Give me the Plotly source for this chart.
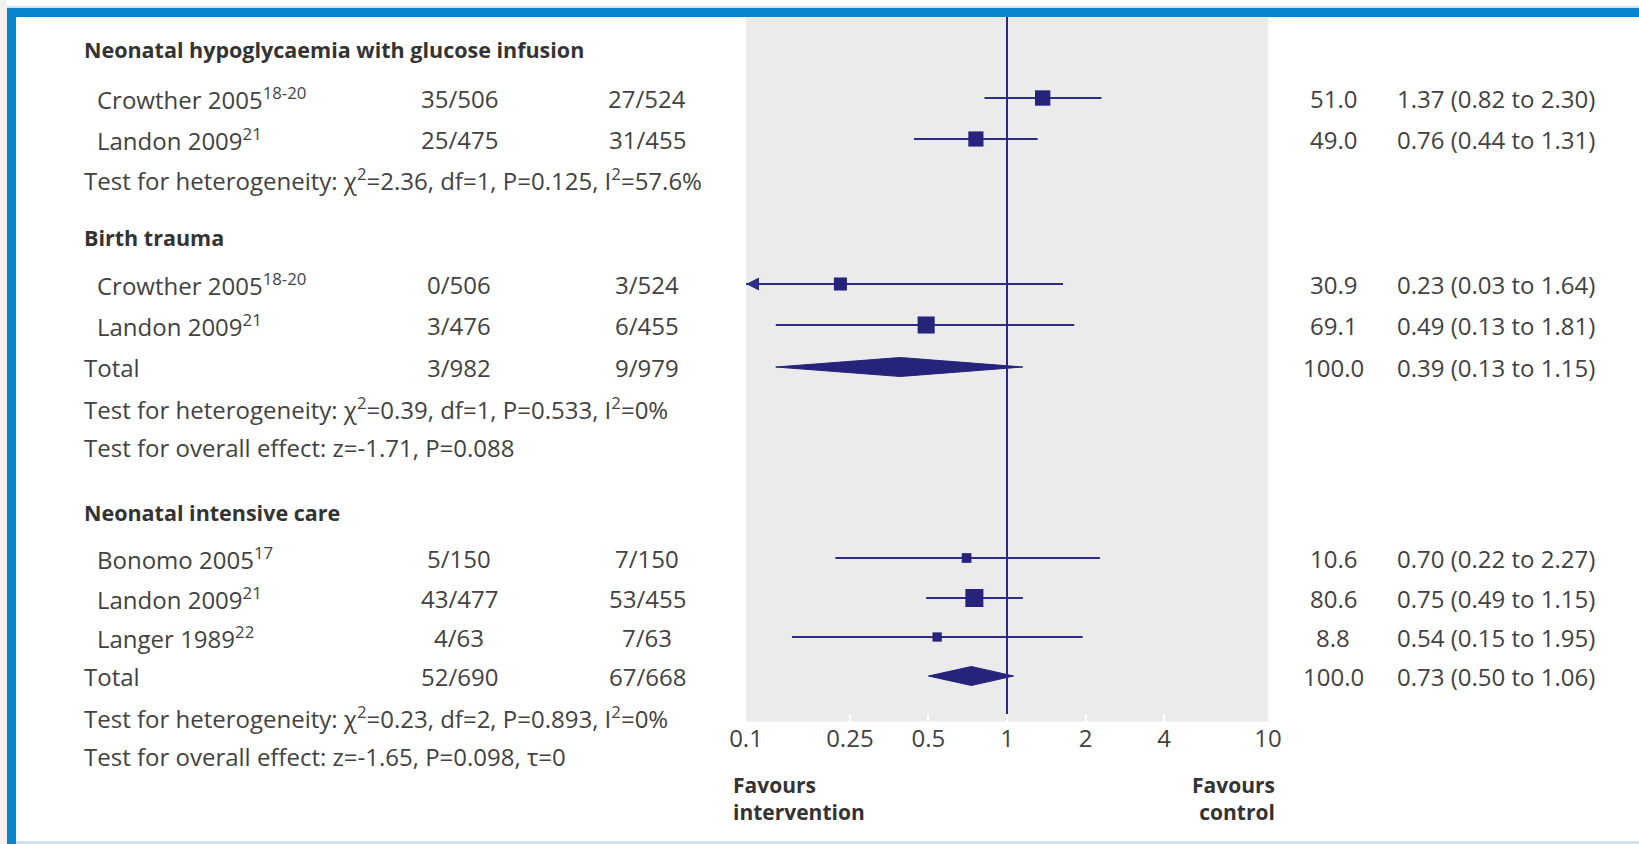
import math
import plotly.graph_objects as go

# ---- data -------------------------------------------------------------
group_titles = [
    "Neonatal hypoglycaemia with glucose infusion",
    "Birth trauma",
    "Neonatal intensive care",
]
study_names = ["Crowther 2005", "Landon 2009", "Crowther 2005", "Landon 2009",
               "Bonomo 2005", "Landon 2009", "Langer 1989"]
study_refs = ["18-20", "21", "18-20", "21", "17", "21", "22"]
study_group = [0, 0, 1, 1, 2, 2, 2]
events_int = ["35/506", "25/475", "0/506", "3/476", "5/150", "43/477", "4/63"]
events_ctl = ["27/524", "31/455", "3/524", "6/455", "7/150", "53/455", "7/63"]
weights = [51.0, 49.0, 30.9, 69.1, 10.6, 80.6, 8.8]
rr = [1.37, 0.76, 0.23, 0.49, 0.70, 0.75, 0.54]
rr_lo = [0.82, 0.44, 0.03, 0.13, 0.22, 0.49, 0.15]
rr_hi = [2.30, 1.31, 1.64, 1.81, 2.27, 1.15, 1.95]

total_int = [None, "3/982", "52/690"]
total_ctl = [None, "9/979", "67/668"]
total_weight = [None, 100.0, 100.0]
total_rr = [None, 0.39, 0.73]
total_lo = [None, 0.13, 0.50]
total_hi = [None, 1.15, 1.06]

heterogeneity = [
    "χ<sup>2</sup>=2.36, df=1, P=0.125, I<sup>2</sup>=57.6%",
    "χ<sup>2</sup>=0.39, df=1, P=0.533, I<sup>2</sup>=0%",
    "χ<sup>2</sup>=0.23, df=2, P=0.893, I<sup>2</sup>=0%",
]
overall_effect = [None, "z=-1.71, P=0.088", "z=-1.65, P=0.098, τ=0"]

tick_values = [0.1, 0.25, 0.5, 1, 2, 4, 10]
tick_labels = ["0.1", "0.25", "0.5", "1", "2", "4", "10"]
favours_left = ["Favours", "intervention"]
favours_right = ["Favours", "control"]

# ---- layout (pixel positions) ------------------------------------------
W, H = 1639, 844
header_y = [49, 237, 512]
study_y = [98, 139, 284, 325, 558, 598, 637]
total_y = [None, 367, 676]
het_y = [179, 408, 717]
overall_y = [None, 447, 756]
favours_mid = 798

panel_left, panel_right = 746, 1268
panel_top, panel_bottom = 17, 721.5
x_head, x_study = 82, 95
x_int, x_ctl = 459, 647
x_weight, x_rr = 1333, 1395

navy = "#25247a"
line_navy = "#2e2d86"
text_col = "#424242"
head_col = "#333333"
reg_font = "Open Sans"
left_size = 24
right_size = 24


def px(x):
    return x / W


fig = go.Figure()

annotations = []


def label(x, y, text, anchor="left", bold=False, size=left_size, color=None):
    annotations.append(dict(
        x=px(x), y=y, xref="paper", yref="y", text=text, showarrow=False,
        xanchor=anchor, yanchor="middle", align=anchor if anchor != "center" else "center",
        font=dict(family=reg_font, size=size,
                  color=color or (head_col if bold else text_col),
                  weight="bold" if bold else "normal"),
    ))


# group headers, heterogeneity and overall-effect lines
for g, title in enumerate(group_titles):
    label(x_head, header_y[g], title, bold=True, size=21.5)
    label(x_head, het_y[g], "Test for heterogeneity: " + heterogeneity[g])
    if overall_effect[g]:
        label(x_head, overall_y[g], "Test for overall effect: " + overall_effect[g])
    if total_int[g]:
        label(x_head, total_y[g], "Total")
        label(x_int, total_y[g], total_int[g], anchor="center")
        label(x_ctl, total_y[g], total_ctl[g], anchor="center")
        label(x_weight, total_y[g], f"{total_weight[g]:.1f}", anchor="center",
              size=right_size)
        label(x_rr, total_y[g],
              f"{total_rr[g]:.2f} ({total_lo[g]:.2f} to {total_hi[g]:.2f})",
              size=right_size)

# study rows
for i, name in enumerate(study_names):
    y = study_y[i]
    label(x_study, y, f"{name}<sup>{study_refs[i]}</sup>")
    label(x_int, y, events_int[i], anchor="center")
    label(x_ctl, y, events_ctl[i], anchor="center")
    label(x_weight, y, f"{weights[i]:.1f}", anchor="center", size=right_size)
    label(x_rr, y, f"{rr[i]:.2f} ({rr_lo[i]:.2f} to {rr_hi[i]:.2f})",
          size=right_size)

# favours labels under the axis
label(731, favours_mid, "<br>".join(favours_left), bold=True, size=21)
label(1277, favours_mid, "<br>".join(favours_right), anchor="right", bold=True, size=21)

# confidence interval lines (clipped at the axis minimum)
xmin = tick_values[0]
ci_x, ci_y = [], []
for i in range(len(rr)):
    ci_x += [max(rr_lo[i], xmin), rr_hi[i], None]
    ci_y += [study_y[i], study_y[i], None]
fig.add_trace(go.Scatter(x=ci_x, y=ci_y, mode="lines",
                         line=dict(color=line_navy, width=2),
                         hoverinfo="skip", showlegend=False))

# arrowheads for intervals running off the scale
for i in range(len(rr)):
    if rr_lo[i] < xmin:
        annotations.append(dict(
            x=math.log10(xmin), y=study_y[i], xref="x", yref="y",
            ax=math.log10(xmin) + 0.12, ay=study_y[i], axref="x", ayref="y",
            text="", showarrow=True, arrowhead=2, arrowsize=1.3,
            arrowwidth=2, arrowcolor=line_navy,
        ))

# study point estimates, square area grows with weight
fig.add_trace(go.Scatter(
    x=rr, y=study_y, mode="markers",
    marker=dict(symbol="square", color=navy, opacity=1,
                size=[5 + 1.45 * math.sqrt(w) for w in weights],
                line=dict(width=0)),
    hoverinfo="skip", showlegend=False))

# pooled estimates as diamonds
half_h = 9.5
for g in range(len(group_titles)):
    if total_rr[g] is None:
        continue
    y = total_y[g]
    fig.add_trace(go.Scatter(
        x=[total_lo[g], total_rr[g], total_hi[g], total_rr[g], total_lo[g]],
        y=[y, y - half_h, y, y + half_h, y],
        mode="lines", fill="toself", fillcolor=navy,
        line=dict(color=navy, width=1),
        hoverinfo="skip", showlegend=False))

# line of no effect
fig.add_trace(go.Scatter(x=[1, 1], y=[panel_top, panel_bottom], mode="lines",
                         line=dict(color="#2b2a80", width=2),
                         hoverinfo="skip", showlegend=False))

shapes = [
    # shaded plotting panel
    dict(type="rect", xref="x", yref="y", x0=tick_values[0], x1=tick_values[-1],
         y0=panel_top, y1=panel_bottom, fillcolor="#ebebeb",
         line=dict(width=0), layer="below"),
    # page strip and frame
    dict(type="rect", xref="paper", yref="paper", x0=0, x1=px(7), y0=0, y1=1,
         fillcolor="#f3f1ec", line=dict(width=0), layer="below"),
    dict(type="rect", xref="paper", yref="paper", x0=px(7), x1=1,
         y0=1 - 8 / H, y1=1 - 6 / H, fillcolor="#cfe5f4",
         line=dict(width=0), layer="below"),
    dict(type="rect", xref="paper", yref="paper", x0=px(7), x1=1,
         y0=1 - 17 / H, y1=1 - 8 / H, fillcolor="#0a84cc",
         line=dict(width=0), layer="below"),
    dict(type="rect", xref="paper", yref="paper", x0=px(7), x1=px(16),
         y0=0, y1=1 - 8 / H, fillcolor="#0a84cc",
         line=dict(width=0), layer="below"),
    dict(type="rect", xref="paper", yref="paper", x0=px(16), x1=1,
         y0=0, y1=3 / H, fillcolor="#cfe3ef",
         line=dict(width=0), layer="below"),
]

fig.update_layout(
    width=W, height=H,
    margin=dict(l=0, r=0, t=0, b=0, pad=0, autoexpand=False),
    paper_bgcolor="white", plot_bgcolor="rgba(0,0,0,0)",
    showlegend=False,
    xaxis=dict(type="log", range=[math.log10(tick_values[0]), math.log10(tick_values[-1])],
               domain=[px(panel_left), px(panel_right)],
               anchor="free", position=1 - panel_bottom / H, automargin=False,
               tickmode="array", tickvals=tick_values, ticktext=tick_labels,
               ticks="inside", ticklen=8, tickwidth=2, tickcolor="white",
               showgrid=False, zeroline=False, showline=False,
               tickfont=dict(family=reg_font, size=right_size, color=text_col),
               ticklabelstandoff=0),
    yaxis=dict(range=[H, 0], domain=[0, 1], visible=False, showgrid=False,
               automargin=False),
    shapes=shapes,
    annotations=annotations,
)

fig.write_html("out.html")
